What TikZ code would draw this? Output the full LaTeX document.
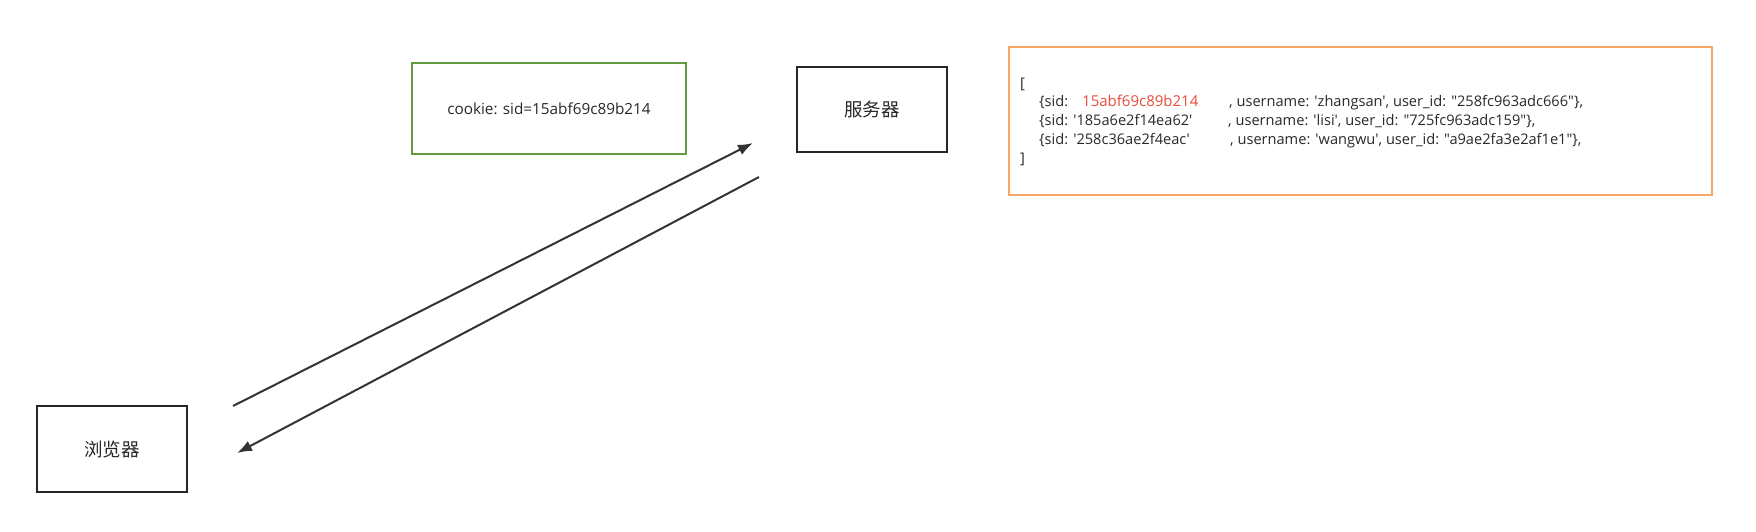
\documentclass[tikz,border=0pt]{standalone}
\usepackage{fontspec}
\usetikzlibrary{arrows.meta}
\newfontfamily\latinfont{Open Sans}
\newfontfamily\cjkfont{Noto Sans CJK SC}
\definecolor{boxdark}{RGB}{35,38,43}
\definecolor{boxgreen}{RGB}{98,155,63}
\definecolor{boxorange}{RGB}{245,168,101}
\definecolor{linegray}{RGB}{51,51,51}
\definecolor{sidred}{RGB}{232,76,61}
\definecolor{txt}{RGB}{40,40,40}
\begin{document}
\begin{tikzpicture}[x=1pt,y=-1pt,
  box/.style={draw=boxdark,line width=2pt,inner sep=0pt,text=txt,font=\cjkfont\fontsize{18.5}{22}\selectfont},
  greenbox/.style={draw=boxgreen,line width=2pt,inner sep=0pt,text=txt,font=\latinfont\fontsize{15.3}{18}\selectfont},
  orangebox/.style={draw=boxorange,line width=2pt,inner sep=0pt},
  code/.style={anchor=base west,inner sep=0pt,text=txt,font=\latinfont\fontsize{14.6}{18}\selectfont},
  flow/.style={draw=linegray,line width=2pt,-{Latex[length=15pt,width=11pt]}}]
\useasboundingbox (0,0) rectangle (1756,532);
\node[greenbox,minimum width=274pt,minimum height=91pt] (cookie) at (549,108.5) {cookie: sid=15abf69c89b214};
\node[box,minimum width=150pt,minimum height=85pt] (server) at (872,109.5) {服务器};
\node[box,minimum width=150pt,minimum height=86pt] (browser) at (112,449) {浏览器};
\node[orangebox,minimum width=703pt,minimum height=148pt] (store) at (1360.5,121) {};
\node[code] (b1) at (1020,89) {[};
\node[code] (l1a) at (1039,107) {\{sid:};
\node[code,text=sidred,font=\latinfont\fontsize{15}{18}\selectfont] (l1r) at (1082,107) {15abf69c89b214};
\node[code] (l1b) at (1229,107) {, username: 'zhangsan', user\_id: "258fc963adc666"\},};
\node[code] (l2a) at (1039,126) {\{sid: '185a6e2f14ea62'};
\node[code] (l2b) at (1228,126) {, username: 'lisi', user\_id: "725fc963adc159"\},};
\node[code] (l3a) at (1039,145) {\{sid: '258c36ae2f4eac'};
\node[code] (l3b) at (1230,145) {, username: 'wangwu', user\_id: "a9ae2fa3e2af1e1"\},};
\node[code] (b2) at (1020,164) {]};
\coordinate (reqS) at (233,406);
\coordinate (reqE) at (753,143);
\coordinate (resS) at (759,177);
\coordinate (resE) at (237,453);
\draw[flow] (reqS) -- (reqE);
\draw[flow] (resS) -- (resE);
\end{tikzpicture}
\end{document}
